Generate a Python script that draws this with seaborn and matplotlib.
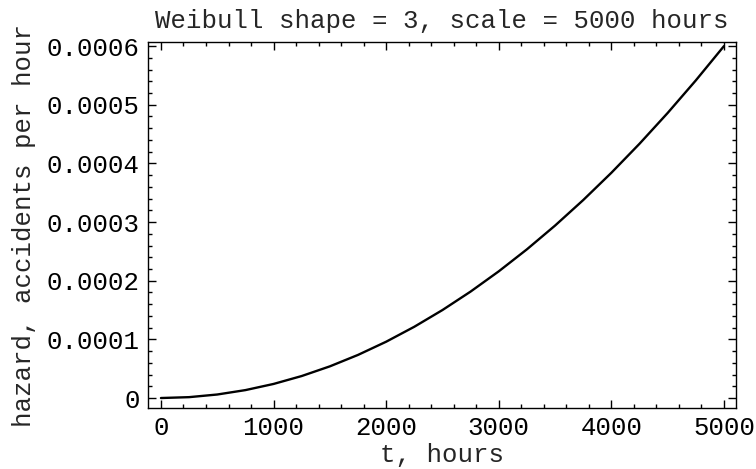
import numpy as np
import pandas as pd
import matplotlib
matplotlib.use("Agg")
import matplotlib.pyplot as plt
import seaborn as sns
from matplotlib.ticker import MultipleLocator

# values
t_hours = [0, 250, 500, 750, 1000, 1250, 1500, 1750, 2000, 2250, 2500, 2750,
           3000, 3250, 3500, 3750, 4000, 4250, 4500, 4750, 5000]
hazard = [0.0, 0.0000015, 0.000006, 0.0000135, 0.000024, 0.0000375, 0.000054,
          0.0000735, 0.000096, 0.0001215, 0.00015, 0.0001815, 0.000216,
          0.0002535, 0.000294, 0.0003375, 0.000384, 0.0004335, 0.000486,
          0.0005415, 0.0006]
x_ticks = [0, 1000, 2000, 3000, 4000, 5000]
y_ticks = [0, 0.0001, 0.0002, 0.0003, 0.0004, 0.0005, 0.0006]
y_tick_labels = ["0", "0.0001", "0.0002", "0.0003", "0.0004", "0.0005", "0.0006"]

df = pd.DataFrame({"t": t_hours, "h": hazard})

sns.set_theme(style="ticks")
plt.rcParams["font.family"] = ["Liberation Mono", "DejaVu Sans Mono"]

fig = plt.figure(figsize=(7.56, 4.69), dpi=100)
ax = fig.add_axes([148 / 756, 1 - 408 / 469, (736 - 148) / 756, (408 - 42) / 469])

sns.lineplot(data=df, x="t", y="h", ax=ax, color="black", linewidth=1.7)

ax.set_xlim(-115, 5107)
ax.set_ylim(-0.000017, 0.000607)
ax.set_xticks(x_ticks)
ax.set_xticklabels([str(v) for v in x_ticks])
ax.set_yticks(y_ticks)
ax.set_yticklabels(y_tick_labels)
ax.xaxis.set_minor_locator(MultipleLocator(200))
ax.yaxis.set_minor_locator(MultipleLocator(0.00002))
ax.tick_params(which="both", direction="in", top=True, right=True, colors="black",
               labelsize=18.5, width=1)
ax.tick_params(which="major", length=6, pad=6)
ax.tick_params(which="minor", length=3)
for s in ax.spines.values():
    s.set_color("black")
    s.set_linewidth(1)

ax.set_xlabel("t, hours", fontsize=18.5, labelpad=2)
ax.set_ylabel("hazard, accidents per hour", fontsize=18.5, labelpad=8)
ax.set_title("Weibull shape = 3, scale = 5000 hours", fontsize=18.5, pad=10)

fig.savefig("out.png", dpi=100)
